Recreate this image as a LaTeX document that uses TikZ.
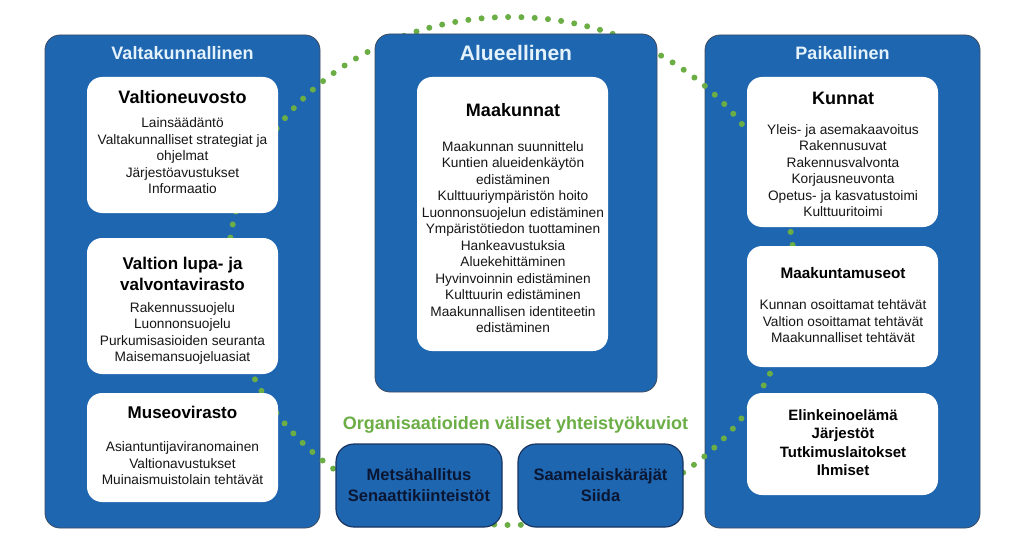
\documentclass[tikz,border=0pt]{standalone}
\usepackage{fontspec}
\setmainfont{Liberation Sans}
\definecolor{boxblue}{RGB}{31,102,176}
\definecolor{boxedge}{RGB}{62,76,96}
\definecolor{smalledge}{RGB}{24,52,96}
\definecolor{dotgreen}{RGB}{108,174,70}
\definecolor{titlecol}{RGB}{228,242,252}
\definecolor{navy}{RGB}{10,22,50}
\definecolor{bodytext}{RGB}{22,22,22}
\begin{document}
\begin{tikzpicture}[x=1pt,y=-1pt,
  bigbox/.style={draw=boxedge, line width=0.8pt, fill=boxblue, rounded corners=15pt, inner sep=0pt},
  whitebox/.style={fill=white, draw=none, rounded corners=15pt, inner sep=0pt},
  smallbox/.style={draw=smalledge, line width=1.2pt, fill=boxblue, rounded corners=18pt, inner sep=0pt},
  ttl/.style={font=\bfseries\fontsize{18}{21}\selectfont, text=titlecol, inner sep=0pt},
  head/.style={font=\bfseries\fontsize{18}{21}\selectfont, align=center, inner sep=0pt, text=black},
  subhead/.style={font=\bfseries\fontsize{17}{21}\selectfont, align=center, inner sep=0pt, text=black},
  body/.style={font=\fontsize{13.7}{16.5}\selectfont, align=center, text=bodytext, inner sep=0pt},
  smalltext/.style={font=\bfseries\fontsize{16.5}{21}\selectfont, align=center, text=navy, inner sep=0pt},
  dotline/.style={draw=dotgreen, line width=6pt, line cap=round, dash pattern=on 0pt off 13.3pt}
]
\useasboundingbox (0,0) rectangle (1017,559);
\fill[white] (0,0) rectangle (1017,559);

% outer columns
\node[bigbox, minimum width=275, minimum height=493] (nat) at (182.5,281.5) {};
\node[bigbox, minimum width=275, minimum height=493] (loc) at (842.5,281.5) {};

% dotted cooperation ring
\coordinate (ringc) at (511,271);
\draw[dotline] (ringc) ellipse [x radius=283, y radius=254];

% central column
\node[bigbox, minimum width=282, minimum height=358] (reg) at (516,213) {};

% bottom boxes
\node[smallbox, minimum width=166, minimum height=83] (mh) at (419,485.5) {};
\node[smallbox, minimum width=165, minimum height=83] (sa) at (600.5,485.5) {};
\node[smalltext] (mhT) at (mh.center) {Metsähallitus\\Senaattikiinteistöt};
\node[smalltext] (saT) at (sa.center) {Saamelaiskäräjät\\Siida};

% column titles
\node[ttl] (natT) at (182.5,53) {Valtakunnallinen};
\node[ttl, font=\bfseries\fontsize{21}{24}\selectfont] (regT) at (516,53) {Alueellinen};
\node[ttl] (locT) at (842.5,53) {Paikallinen};

% white boxes
\node[whitebox, minimum width=191, minimum height=136] (vn) at (182.5,145) {};
\node[whitebox, minimum width=191, minimum height=136] (vl) at (182.5,306) {};
\node[whitebox, minimum width=191, minimum height=109] (mv) at (182.5,447.5) {};
\node[whitebox, minimum width=191, minimum height=274] (mk) at (512.5,214) {};
\node[whitebox, minimum width=191, minimum height=150] (ku) at (842.5,152) {};
\node[whitebox, minimum width=191, minimum height=121] (mm) at (842.5,306.5) {};
\node[whitebox, minimum width=191, minimum height=102] (el) at (842.5,444) {};

% Valtioneuvosto
\node[head] (vnT) at (182.5,97) {Valtioneuvosto};
\node[body] (vnB) at (182.5,156) {Lainsäädäntö\\Valtakunnalliset strategiat ja\\ohjelmat\\Järjestöavustukset\\Informaatio};

% Valtion lupa- ja valvontavirasto
\node[subhead] (vlT) at (182.5,273.5) {Valtion lupa- ja\\valvontavirasto};
\node[body] (vlB) at (182.5,333.5) {Rakennussuojelu\\Luonnonsuojelu\\Purkumisasioiden seuranta\\Maisemansuojeluasiat};

% Museovirasto
\node[subhead] (mvT) at (182.5,412) {Museovirasto};
\node[body] (mvB) at (182.5,463.5) {Asiantuntijaviranomainen\\Valtionavustukset\\Muinaismuistolain tehtävät};

% Maakunnat
\node[head] (mkT) at (513,110) {Maakunnat};
\node[body] (mkB) at (513,237) {Maakunnan suunnittelu\\Kuntien alueidenkäytön\\edistäminen\\Kulttuuriympäristön hoito\\Luonnonsuojelun edistäminen\\Ympäristötiedon tuottaminen\\Hankeavustuksia\\Aluekehittäminen\\Hyvinvoinnin edistäminen\\Kulttuurin edistäminen\\Maakunnallisen identiteetin\\edistäminen};

% Kunnat
\node[head] (kuT) at (843,98) {Kunnat};
\node[body] (kuB) at (843,170.5) {Yleis- ja asemakaavoitus\\Rakennusuvat\\Rakennusvalvonta\\Korjausneuvonta\\Opetus- ja kasvatustoimi\\Kulttuuritoimi};

% Maakuntamuseot
\node[head, font=\bfseries\fontsize{15.3}{18}\selectfont] (mmT) at (843,273) {Maakuntamuseot};
\node[body] (mmB) at (843,321.5) {Kunnan osoittamat tehtävät\\Valtion osoittamat tehtävät\\Maakunnalliset tehtävät};

% Elinkeinoelämä
\node[head, font=\bfseries\fontsize{15}{18.3}\selectfont] (elT) at (843,442.5) {Elinkeinoelämä\\Järjestöt\\Tutkimuslaitokset\\Ihmiset};

% cooperation title
\node[font=\bfseries\fontsize{18}{21}\selectfont, text=dotgreen, inner sep=0pt] (coop) at (515.5,425) {Organisaatioiden väliset yhteistyökuviot};
\end{tikzpicture}
\end{document}
